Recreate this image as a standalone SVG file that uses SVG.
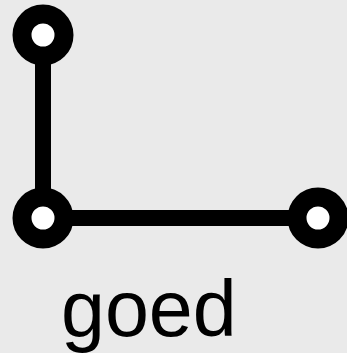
<svg xmlns="http://www.w3.org/2000/svg" width="347" height="353" viewBox="0 0 347 353">
<style>
.edge{stroke:#000;stroke-width:16;fill:none}
.node{fill:#fff;stroke:#000;stroke-width:19}
.label{font-family:"Liberation Sans",Arial,sans-serif;font-size:79px;fill:#000}
</style>
<rect width="347" height="353" fill="#eaeaea"/>
<g id="connectors">
<line class="edge" x1="43" y1="35" x2="43" y2="218"/>
<line class="edge" x1="43" y1="218" x2="318" y2="218"/>
</g>
<g id="node-top"><circle class="node" cx="43" cy="35" r="21"/></g>
<g id="node-corner"><circle class="node" cx="43" cy="218" r="21"/></g>
<g id="node-right"><circle class="node" cx="318" cy="218" r="21"/></g>
<g id="label"><text class="label" x="61" y="336">goed</text></g>
</svg>
